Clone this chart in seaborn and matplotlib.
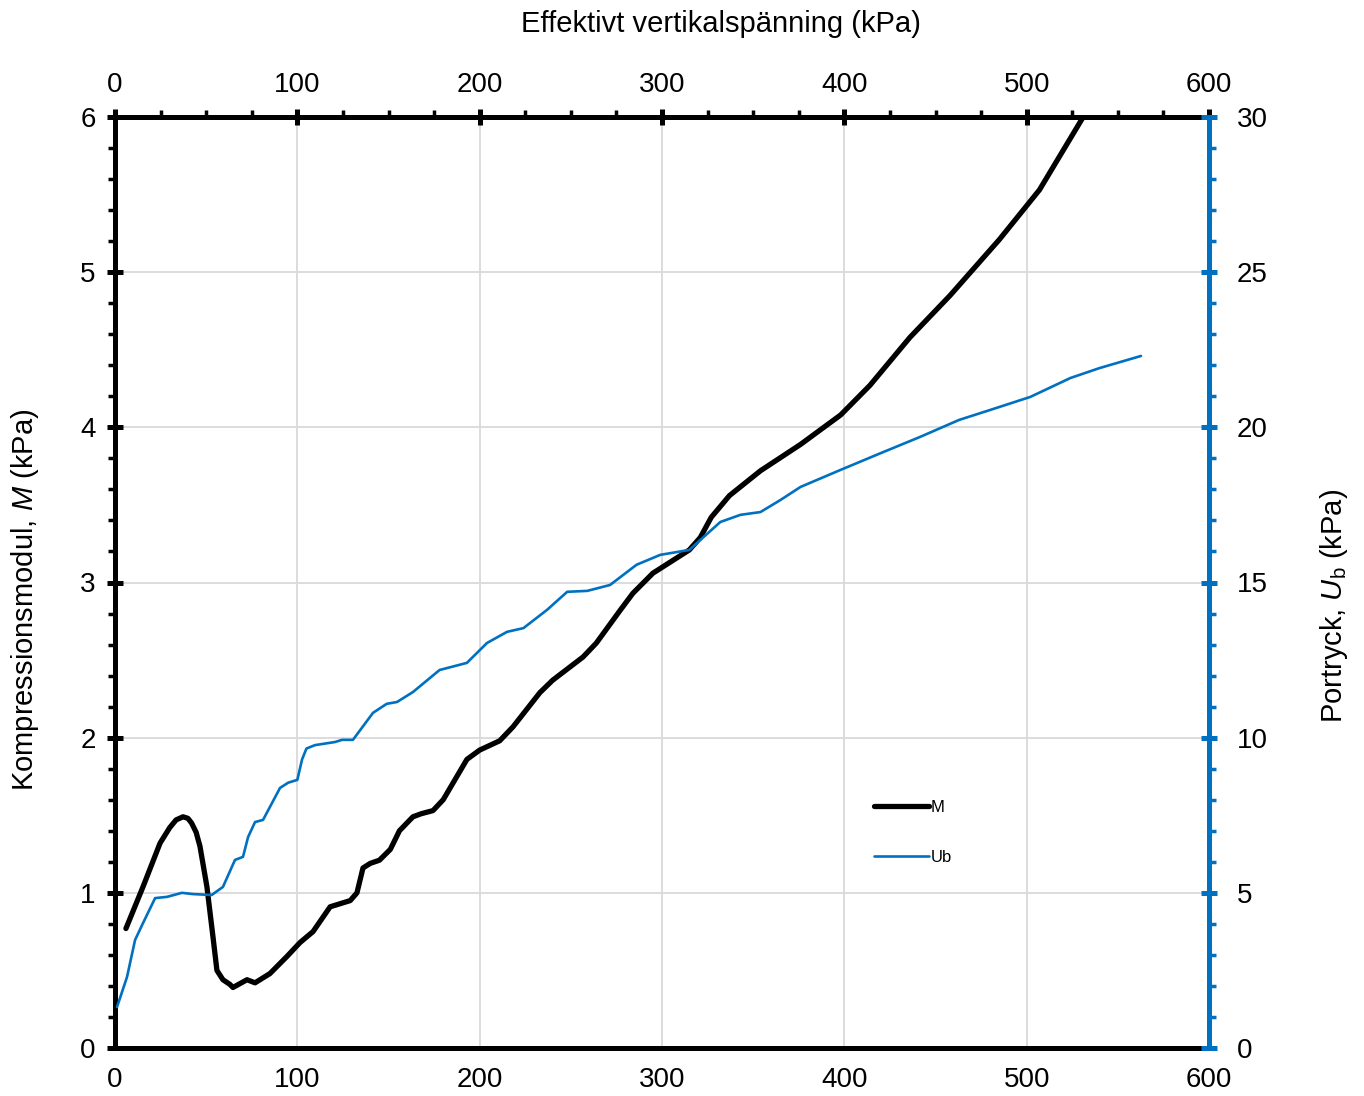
import numpy as np
import pandas as pd
import matplotlib
matplotlib.use("Agg")
import matplotlib.pyplot as plt
from matplotlib.ticker import MultipleLocator
import seaborn as sns

# Kompressionsmodul M (vänster axel)
m_sigma = [6.0, 15.4, 24.7, 30.0, 33.5, 37.3, 40.0, 42.0, 44.5, 46.6, 50.4, 53.7, 55.9,
           59.2, 63.0, 64.7, 72.4, 76.8, 85.0, 94.3, 101.5, 108.6, 118.0, 129.0, 132.7,
           136.0, 140.0, 145.0, 151.0, 156.0, 163.4, 168.0, 174.4, 180.0, 193.0, 200.0,
           211.0, 218.3, 233.0, 240.0, 256.7, 264.0, 277.0, 284.0, 295.0, 315.0, 321.0,
           327.0, 337.0, 354.0, 376.0, 398.0, 414.0, 436.0, 458.0, 485.0, 507.0, 531.0,
           540.0]
m_values = [0.77, 1.04, 1.32, 1.42, 1.47, 1.49, 1.48, 1.45, 1.39, 1.30, 1.04, 0.72, 0.50,
            0.44, 0.41, 0.39, 0.44, 0.42, 0.48, 0.59, 0.68, 0.75, 0.91, 0.95, 1.00,
            1.16, 1.19, 1.21, 1.28, 1.40, 1.49, 1.51, 1.53, 1.60, 1.86, 1.92,
            1.98, 2.07, 2.29, 2.37, 2.52, 2.61, 2.82, 2.93, 3.06, 3.21, 3.29,
            3.42, 3.56, 3.72, 3.89, 4.08, 4.27, 4.58, 4.85, 5.21, 5.53, 6.00,
            6.14]

# Portryck Ub (höger axel)
ub_sigma = [1.1, 6.6, 11.0, 15.4, 22.0, 28.5, 36.7, 42.8, 53.0, 59.2, 65.8, 70.2, 73.0,
            76.8, 81.2, 90.5, 95.0, 100.0, 102.6, 105.0, 109.7, 120.7, 124.5, 130.5,
            141.5, 149.0, 154.7, 163.4, 178.0, 193.0, 204.0, 215.0, 224.0, 237.0, 248.0,
            259.0, 271.5, 286.0, 299.0, 315.0, 321.0, 332.0, 343.0, 354.0, 365.0, 376.0,
            398.0, 420.0, 441.5, 463.0, 480.0, 502.0, 524.0, 540.0, 562.7]
ub_values = [1.32, 2.29, 3.48, 4.03, 4.83, 4.87, 5.00, 4.96, 4.93, 5.19, 6.06, 6.16, 6.80,
             7.28, 7.35, 8.38, 8.55, 8.64, 9.30, 9.65, 9.76, 9.86, 9.93, 9.93,
             10.80, 11.09, 11.15, 11.47, 12.18, 12.41, 13.05, 13.41, 13.53, 14.12, 14.70,
             14.73, 14.92, 15.57, 15.89, 16.05, 16.37, 16.95, 17.18, 17.27, 17.66, 18.08,
             18.63, 19.17, 19.69, 20.24, 20.56, 20.98, 21.59, 21.91, 22.30]

df_m = pd.DataFrame({"sigma": m_sigma, "M": m_values})
df_ub = pd.DataFrame({"sigma": ub_sigma, "Ub": ub_values})

sns.set_style("white")
plt.rcParams["font.family"] = ["Liberation Sans", "DejaVu Sans"]
plt.rcParams["mathtext.fontset"] = "custom"
plt.rcParams["mathtext.it"] = "Liberation Sans:italic"
plt.rcParams["mathtext.rm"] = "Liberation Sans"
plt.rcParams["text.color"] = "black"
plt.rcParams["axes.labelcolor"] = "black"
plt.rcParams["xtick.color"] = "black"
plt.rcParams["ytick.color"] = "black"

fs = 20
lfs = 21
blue = "#0070C0"
fig = plt.figure(figsize=(13.64, 10.96), dpi=100)
ax = fig.add_axes([115 / 1364, 1 - 1048 / 1096, 1094 / 1364, 931 / 1096])

sns.lineplot(data=df_m, x="sigma", y="M", ax=ax, color="black", lw=3.8, label="M",
             legend=False, solid_joinstyle="round")
ax.set_xlim(0, 600)
ax.set_ylim(0, 6)
ax.xaxis.set_major_locator(MultipleLocator(100))
ax.xaxis.set_minor_locator(MultipleLocator(25))
ax.yaxis.set_major_locator(MultipleLocator(1))
ax.yaxis.set_minor_locator(MultipleLocator(0.2))
ax.grid(True, which="major", color="#d9d9d9", lw=1.3)
ax.set_axisbelow(True)
for s in ax.spines.values():
    s.set_linewidth(3.6)
    s.set_color("black")
ax.tick_params(which="major", direction="inout", length=12, width=3.6, labelsize=fs,
               top=True, labeltop=True, pad=8)
ax.tick_params(which="minor", direction="out", length=5, width=2.5, top=True)
ax.set_xlabel("")
ax.set_ylabel("Kompressionsmodul, $M$ (kPa)", fontsize=lfs)
ax.yaxis.set_label_coords(-0.068, 0.481)

# titel på övre x-axeln
ax.text(0.554, 1.10, "Effektivt vertikalspänning (kPa)", transform=ax.transAxes,
        ha="center", va="center", fontsize=lfs)

ax2 = ax.twinx()
sns.lineplot(data=df_ub, x="sigma", y="Ub", ax=ax2, color=blue, lw=1.9, label="Ub",
             legend=False, solid_joinstyle="round")
ax2.set_ylim(0, 30)
ax2.set_xlim(0, 600)
ax2.yaxis.set_major_locator(MultipleLocator(5))
ax2.yaxis.set_minor_locator(MultipleLocator(1))
for k in ["left", "top", "bottom"]:
    ax2.spines[k].set_visible(False)
ax2.spines["right"].set_linewidth(3.6)
ax2.spines["right"].set_color(blue)
ax2.tick_params(axis="y", which="major", direction="inout", length=12, width=3.6,
                color=blue, labelsize=fs, labelcolor="black", pad=14)
ax2.tick_params(axis="y", which="minor", direction="out", length=5, width=2.5, color=blue)
ax2.set_ylabel("Portryck, $U_\\mathrm{b}$ (kPa)", fontsize=lfs)
ax2.yaxis.set_label_coords(1.100, 0.475)
ax2.set_xlabel("")

h1, l1 = ax.get_legend_handles_labels()
h2, l2 = ax2.get_legend_handles_labels()
ax2.legend(h1 + h2, l1 + l2, loc="center left", bbox_to_anchor=(0.68, 0.232),
           frameon=False, fontsize=12, handlelength=3.3, handletextpad=0.1,
           labelspacing=2.1)

fig.savefig("out.png", dpi=100)
